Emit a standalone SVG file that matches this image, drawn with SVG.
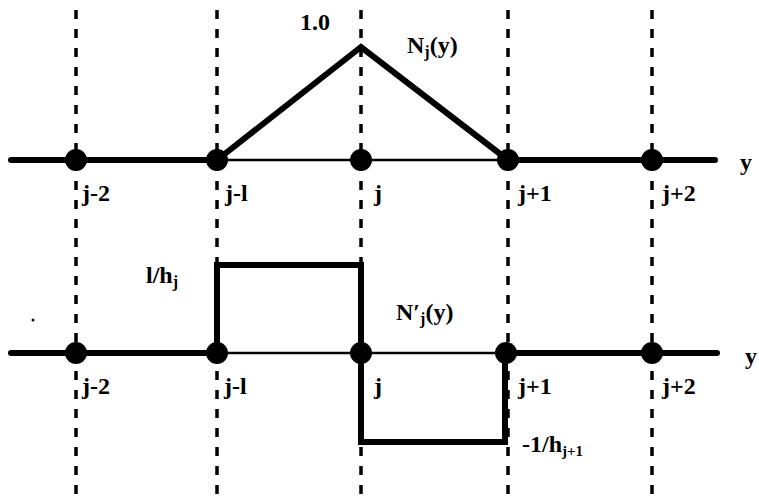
<svg xmlns="http://www.w3.org/2000/svg" width="759" height="501" viewBox="0 0 759 501">
<style>
.grid{stroke:#000;stroke-width:3.5;stroke-dasharray:9 10;fill:none}
.thick{stroke:#000;stroke-width:6;stroke-linecap:round;fill:none}
.thin{stroke:#000;stroke-width:2.5;fill:none}
.fn{stroke:#000;stroke-width:6;stroke-linejoin:miter;fill:none}
.dot{fill:#000}
text{font-family:"Liberation Serif",serif;font-size:24px;font-weight:bold;fill:#000}
</style>
<rect width="759" height="501" fill="#fff"/>
<g id="grid">
<line class="grid" x1="76" y1="10" x2="76" y2="501"/>
<line class="grid" x1="217" y1="10" x2="217" y2="501"/>
<line class="grid" x1="361" y1="10" x2="361" y2="501"/>
<line class="grid" x1="508" y1="10" x2="508" y2="501"/>
<line class="grid" x1="652" y1="10" x2="652" y2="501"/>
</g>
<g id="axis-top">
<line class="thick" x1="11" y1="160" x2="217" y2="160"/>
<line class="thin" x1="217" y1="160" x2="508" y2="160"/>
<line class="thick" x1="508" y1="160" x2="715" y2="160"/>
<text x="740" y="170">y</text>
</g>
<g id="axis-bottom">
<line class="thick" x1="11" y1="353" x2="217" y2="353"/>
<line class="thin" x1="217" y1="353" x2="508" y2="353"/>
<line class="thick" x1="508" y1="353" x2="717" y2="353"/>
<text x="745" y="364">y</text>
</g>
<g id="Nj">
<polyline class="fn" points="217,160 361,47 508,160"/>
<text x="300" y="30">1.0</text>
<text x="407" y="53">N<tspan font-size="16" dy="4">j</tspan><tspan dy="-4">(y)</tspan></text>
</g>
<g id="dNj">
<polyline class="fn" points="217,353 217,265 361,265 361,442 505,442 505,353"/>
<text x="146" y="283">l/h<tspan font-size="16" dy="4">j</tspan></text>
<text x="396" y="320">N′<tspan font-size="16" dy="4">j</tspan><tspan dy="-4">(y)</tspan></text>
<text x="522" y="452" font-size="20">-1/h<tspan font-size="15" dy="4">j+1</tspan></text>
</g>
<g id="nodes-top">
<circle class="dot" cx="76" cy="160" r="11"/>
<circle class="dot" cx="217" cy="160" r="11"/>
<circle class="dot" cx="361" cy="160" r="11"/>
<circle class="dot" cx="508" cy="160" r="11"/>
<circle class="dot" cx="652" cy="160" r="11"/>
<text x="82" y="201">j-2</text>
<text x="225" y="201">j-l</text>
<text x="374" y="201">j</text>
<text x="518" y="201">j+1</text>
<text x="662" y="201">j+2</text>
</g>
<g id="nodes-bottom">
<circle class="dot" cx="76" cy="353" r="11"/>
<circle class="dot" cx="217" cy="353" r="11"/>
<circle class="dot" cx="361" cy="353" r="11"/>
<circle class="dot" cx="506" cy="353" r="11"/>
<circle class="dot" cx="652" cy="353" r="11"/>
<text x="82" y="394">j-2</text>
<text x="224" y="394">j-l</text>
<text x="374" y="394">j</text>
<text x="518" y="394">j+1</text>
<text x="662" y="394">j+2</text>
</g>
<circle cx="33" cy="320" r="1.5" fill="#000"/>
</svg>
